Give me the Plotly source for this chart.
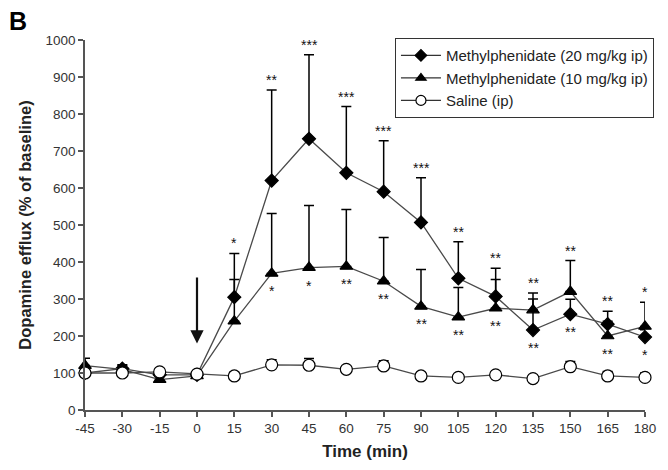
import plotly.graph_objects as go

# ---- data ----
time_min = [-45, -30, -15, 0, 15, 30, 45, 60, 75, 90, 105, 120, 135, 150, 165, 180]
tick_labels = [str(t) for t in time_min]

mph20 = [100, 112, 95, 95, 305, 620, 733, 641, 590, 507, 356, 307, 216, 259, 232, 197]
mph20_err = [15, 10, 10, 8, 118, 245, 227, 179, 138, 121, 99, 76, 100, 40, 35, 20]

mph10 = [120, 110, 82, 92, 240, 369, 385, 388, 348, 280, 251, 275, 270, 320, 200, 226]
mph10_err = [20, 10, 8, 10, 113, 162, 168, 154, 118, 100, 80, 78, 30, 84, 40, 65]

saline = [100, 100, 103, 97, 92, 122, 121, 110, 119, 92, 88, 95, 85, 117, 92, 88]
saline_err = [12, 10, 8, 8, 10, 14, 18, 8, 14, 8, 8, 8, 8, 14, 12, 12]

sig_above = ["", "", "", "", "*", "**", "***", "***", "***", "***", "**", "**", "**", "**", "**", "*"]
sig_below = ["", "", "", "", "", "*", "*", "**", "**", "**", "**", "**", "**", "**", "**", "*"]

arrow_time = 0
arrow_from = 362
arrow_to = 180

FONT = "Liberation Sans, Arial, sans-serif"
TXT = "#222222"

fig = go.Figure()

def add_series(name, y, err, symbol, fill, size, lsize):
    fig.add_trace(go.Scatter(
        x=time_min, y=y, name=name, mode="lines+markers", showlegend=False,
        line=dict(color="#4a4a4a", width=1.3),
        marker=dict(symbol=symbol, size=size, color=fill,
                    line=dict(color="black", width=1.2)),
        error_y=dict(type="data", symmetric=False, array=err,
                     arrayminus=[0] * len(err), color="black",
                     thickness=1.5, width=5),
        cliponaxis=False,
    ))
    # legend entry (smaller symbol, as in the original key)
    fig.add_trace(go.Scatter(
        x=[None], y=[None], name=name, mode="lines+markers",
        line=dict(color="#333333", width=1.3),
        marker=dict(symbol=symbol, size=lsize, color=fill,
                    line=dict(color="black", width=1.2)),
    ))

add_series("Methylphenidate (20 mg/kg ip)", mph20, mph20_err, "diamond", "black", 10, 9)
add_series("Methylphenidate (10 mg/kg ip)", mph10, mph10_err, "triangle-up", "black", 11, 9)
add_series("Saline (ip)", saline, saline_err, "circle", "white", 12, 10)

annotations = []
for t, a, b, y1, e1, y2, e2 in zip(time_min, sig_above, sig_below, mph20, mph20_err, mph10, mph10_err):
    if a:
        annotations.append(dict(x=t, y=max(y1 + e1, y2 + e2), text=a, showarrow=False,
                                yanchor="bottom", yshift=0,
                                font=dict(family=FONT, size=14, color="#111111")))
    if b:
        annotations.append(dict(x=t, y=min(y1, y2), text=b, showarrow=False,
                                yanchor="top", yshift=-8,
                                font=dict(family=FONT, size=14, color="#111111")))

annotations.append(dict(x=arrow_time, y=arrow_to, ax=arrow_time, ay=arrow_from,
                        xref="x", yref="y", axref="x", ayref="y", text="",
                        showarrow=True, arrowhead=2, arrowsize=1.2, arrowwidth=2.2,
                        arrowcolor="#111111"))
annotations.append(dict(x=-0.14, y=1.095, xref="paper", yref="paper", text="<b>B</b>",
                        showarrow=False, xanchor="left", yanchor="top",
                        font=dict(family=FONT, size=25, color="black")))

fig.update_layout(
    width=668, height=470,
    margin=dict(l=85, r=12, t=40, b=59),
    paper_bgcolor="white", plot_bgcolor="white",
    font=dict(family=FONT, size=13, color=TXT),
    showlegend=True,
    legend=dict(x=1.016, y=1.005, xanchor="right", yanchor="top",
                bgcolor="white", bordercolor="#333333", borderwidth=1,
                font=dict(family=FONT, size=15, color=TXT),
                tracegroupgap=0, itemwidth=40),
    annotations=annotations,
)
fig.update_xaxes(range=[-45, 180], tickvals=time_min, ticktext=tick_labels,
                 showline=True, linecolor="#555555", linewidth=1.5,
                 ticks="outside", ticklen=5, tickcolor="#555555", tickwidth=1.5,
                 showgrid=False, zeroline=False,
                 tickfont=dict(family=FONT, size=13.5, color="#333333"),
                 title=dict(text="<b>Time (min)</b>", standoff=10,
                            font=dict(family=FONT, size=17, color=TXT)))
fig.update_yaxes(range=[0, 1000], dtick=100,
                 showline=True, linecolor="#555555", linewidth=1.5,
                 ticks="outside", ticklen=5, tickcolor="#555555", tickwidth=1.5,
                 showgrid=False, zeroline=False,
                 tickfont=dict(family=FONT, size=13.5, color="#333333"),
                 title=dict(text="<b>Dopamine efflux (% of baseline)</b>", standoff=10,
                            font=dict(family=FONT, size=16.5, color=TXT)))

fig.write_html("out.html", config={"displayModeBar": False},
               post_script="document.body.style.margin='0';")
